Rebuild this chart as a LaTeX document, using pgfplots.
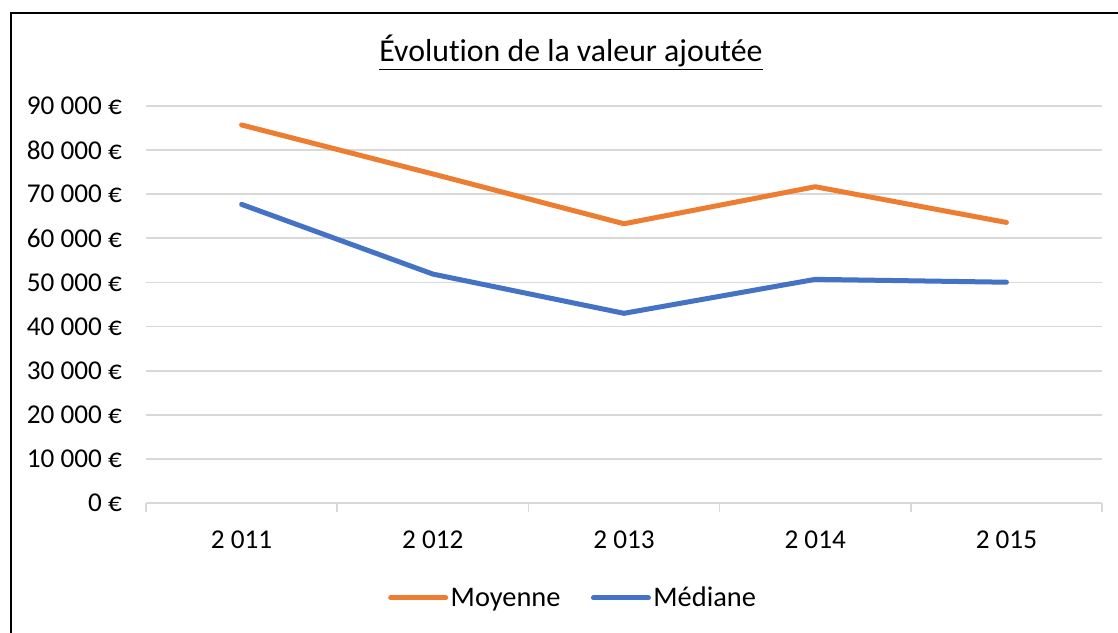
\documentclass[border=0pt]{standalone}
\usepackage{fontspec}
\setmainfont{Carlito}[Ligatures={NoCommon}]
\usepackage{pgfplots}
\pgfplotsset{compat=1.18}
\definecolor{morange}{HTML}{ED7D31}
\definecolor{mblue}{HTML}{4472C4}
\definecolor{gridgray}{HTML}{D9D9D9}
\begin{document}
\begin{tikzpicture}
\path[use as bounding box] (0,0) rectangle (1118bp,633bp);
\draw[line width=2bp, black] (10.5bp,-5bp) -- (10.5bp,620bp) -- (1125bp,620bp);
\node[anchor=base, inner sep=0pt, font=\fontsize{31.8bp}{36bp}\selectfont] at (571bp,571bp) {\underline{Évolution de la valeur ajoutée}};
\begin{axis}[
  at={(146bp,130bp)}, anchor=south west,
  width=956bp, height=397bp, scale only axis,
  xmin=-0.5, xmax=4.5, ymin=0, ymax=90000,
  scaled y ticks=false,
  axis lines*=left,
  y axis line style={draw=none},
  x axis line style={draw=gridgray, line width=1.7bp},
  xtick={0,1,2,3,4},
  xticklabels={2 011, 2 012, 2 013, 2 014, 2 015},
  minor xtick={-0.5,0.5,1.5,2.5,3.5,4.5},
  ytick={0,10000,...,90000},
  yticklabels={0 €, 10 000 €, 20 000 €, 30 000 €, 40 000 €, 50 000 €, 60 000 €, 70 000 €, 80 000 €, 90 000 €},
  major tick length=0pt,
  minor tick length=9bp,
  tick align=outside,
  minor x tick style={draw=gridgray, line width=1.7bp},
  major tick style={draw=none},
  ymajorgrids,
  major grid style={draw=gridgray, line width=1.7bp},
  tick label style={font=\fontsize{27.2bp}{30bp}\selectfont, text=black, inner sep=0pt},
  xticklabel style={anchor=base, yshift=-45bp},
  yticklabel style={anchor=east, xshift=-24bp},
  legend columns=2,
  legend style={draw=none, fill=none, at={(0.447,-0.239)}, anchor=center,
    font=\fontsize{28.4bp}{32bp}\selectfont, inner sep=0pt, outer sep=0pt,
    nodes={inner sep=2.5bp},
    /tikz/every even column/.append style={column sep=28bp}},
  legend image code/.code={\draw[#1, line cap=round] (0bp,0bp) -- (55bp,0bp);},
  every axis plot/.append style={line width=5bp, line cap=round, line join=round},
  clip=false,
]
\addplot[morange] coordinates {(0,85700) (1,74600) (2,63300) (3,71700) (4,63600)};
\addlegendentry{Moyenne}
\addplot[mblue] coordinates {(0,67700) (1,51900) (2,43000) (3,50700) (4,50050)};
\addlegendentry{Médiane}
\end{axis}
\end{tikzpicture}
\end{document}
